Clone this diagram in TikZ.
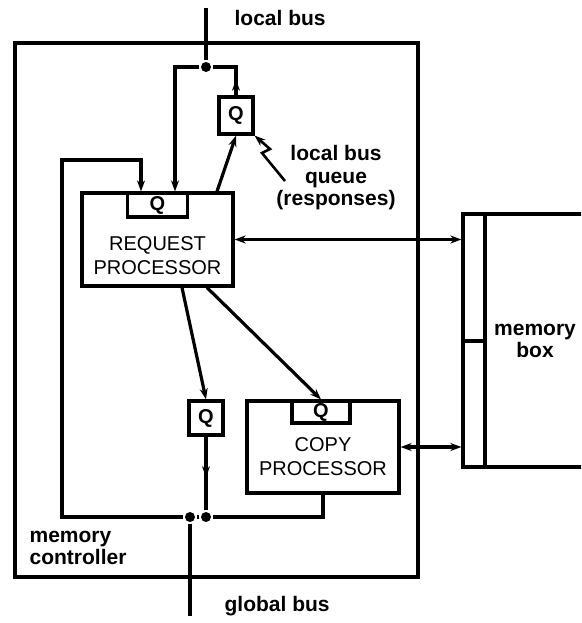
\documentclass[tikz,border=0pt]{standalone}
\usepackage{fontspec}
\setmainfont{Liberation Sans}
\usepackage{tikz}
\usetikzlibrary{arrows.meta,decorations.markings}

\begin{document}
\begin{tikzpicture}[
    x=1pt, y=-1pt,
    >={Stealth[length=11pt,width=8pt]},
    line width=3.2pt,
    box/.style={draw, inner sep=0pt},
    qbox/.style={box, font=\fontsize{20}{22}\selectfont\bfseries},
    proctext/.style={align=center, font=\fontsize{20}{24}\selectfont},
    lbl/.style={font=\fontsize{21}{22.5}\selectfont\bfseries, inner sep=0pt},
    dot/.style={circle, fill, inner sep=0pt, minimum size=10pt},
    midarrow/.style={
        postaction={decorate},
        decoration={markings, mark=at position 0.55 with {\arrow{>}}}
    }
]
\useasboundingbox (0,0) rectangle (581,623);
\clip (0,0) rectangle (581,623);

% Memory controller
\node[box, minimum width=403pt, minimum height=534pt] (ctrl) at (216.5,310) {};

% Request processor
\node[box, minimum width=151pt, minimum height=93pt] (rp) at (157.5,239.5) {};
\node[qbox, minimum width=60pt, minimum height=24pt, anchor=north] (rpq) at (rp.north) {Q};
\node[proctext] (rptxt) at ([yshift=-16pt]rp.center) {REQUEST\\PROCESSOR};

% Copy processor
\node[box, minimum width=152pt, minimum height=92pt] (cp) at (323,447) {};
\node[qbox, minimum width=58pt, minimum height=22pt, anchor=north] (cpq) at ([xshift=-2pt]cp.north) {Q};
\node[proctext] (cptxt) at ([yshift=-10pt]cp.center) {COPY\\PROCESSOR};

% Queues
\node[qbox, minimum width=34pt, minimum height=37pt] (lbq) at (236,115.5) {Q};
\node[qbox, minimum width=34pt, minimum height=34pt] (gbq) at (206,418) {Q};

% Memory box
\node[box, minimum width=22pt, minimum height=127pt] (mema) at (474,277.5) {};
\node[box, minimum width=22pt, minimum height=126pt] (memb) at (474,404) {};
\node[box, minimum width=130pt, minimum height=253pt] (mem) at (550,340.5) {};
\node[lbl, align=center] (memtxt) at (535,341) {memory\\box};

% Bus junctions
\coordinate (lbtop) at (206,8);
\node[dot] (lbj) at (206,67) {};
\node[dot] (gbj) at (190,517) {};
\node[dot] (gqj) at (206,517) {};
\coordinate (gbbot) at (190,616);
\coordinate (fb) at (62,160);
\coordinate (sq) at (285,181);

% Local bus
\draw (lbtop) -- (lbj);
\draw[->] (lbj) -| ([xshift=17.5pt]rp.north);
\draw (lbj) -| (lbq.north);
\draw[midarrow] (lbq.north) -- (lbq.north |- lbj);
\draw[->] ([xshift=59.5pt]rp.north) -- (lbq.south);

% Queue pointer
\draw[
    ->,
    line width=2.6pt
] (sq) -- (262,153) -- (270,149) -- (lbq.south east);

% Feedback from global bus
\draw[->] (gbj) -| (fb) -| ([xshift=-16.5pt]rp.north);

% Global bus
\draw (cp.south) |- (gqj);
\draw (gqj) -- (gbj);
\draw[midarrow] (gbq.south) -- (gqj);
\draw (gbj) -- (gbbot);

% Requests
\draw[->] ([xshift=24.5pt]rp.south) -- (gbq.north);
\draw[->] ([xshift=49.5pt]rp.south) -- (cpq.north);

% To memory
\draw[<->] (rp.east) -- (rp.east -| mema.west);
\draw[<->] (cp.east) -- (cp.east -| memb.west);

% Labels
\node[lbl, anchor=base west] (lbtxt) at (233,26) {local bus};
\node[lbl, align=center] (lbqlab) at (336,178) {local bus\\queue\\(responses)};
\node[lbl, align=left, anchor=west] (ctrltxt) at (28,548) {memory\\controller};
\node[lbl, anchor=base west] (gbtxt) at (223,611) {global bus};

\end{tikzpicture}
\end{document}
